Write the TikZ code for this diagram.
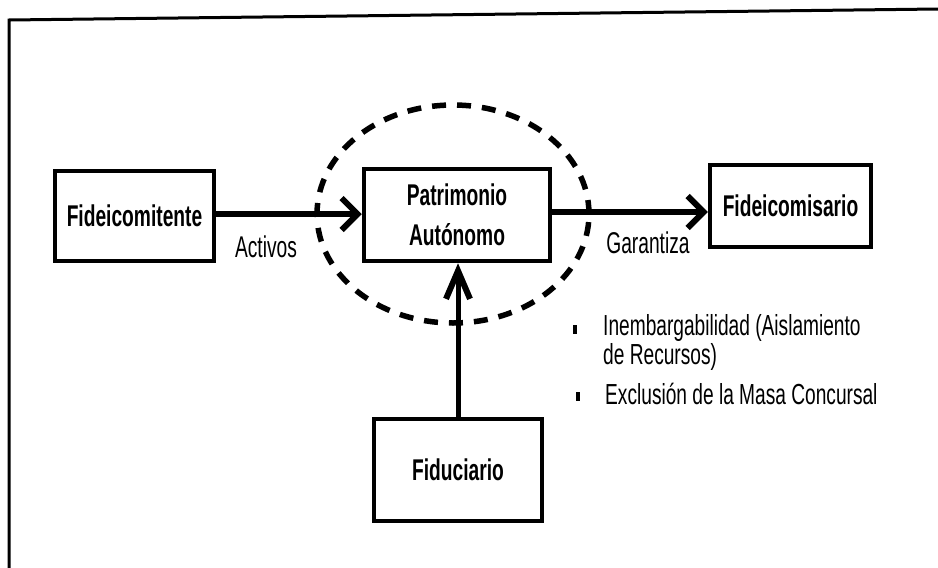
\documentclass[tikz,border=0pt]{standalone}
\usepackage{fontspec}
\usetikzlibrary{arrows.meta,shapes.geometric}
\newfontfamily\boxfont[FakeStretch=0.64]{Liberation Sans}
\newfontfamily\bulfont[FakeStretch=0.66]{Liberation Sans}
\tikzset{
  box/.style={draw, line width=4.5pt, inner sep=0pt, align=center,
    font=\boxfont\bfseries\fontsize{30}{32}\selectfont},
  lab/.style={inner sep=0pt, font=\boxfont\fontsize{30}{32}\selectfont},
  bul/.style={inner sep=0pt, anchor=base west, font=\bulfont\fontsize{29}{26}\selectfont},
  bulletmark/.style={fill=black, inner sep=0pt, minimum width=4pt, minimum height=9pt},
  flowh/.style={line width=6pt, -{Straight Barb[length=16pt,width=32pt,line width=6pt]}},
  flowv/.style={line width=5pt, -{Straight Barb[length=28pt,width=24pt,line width=6pt]}},
  ring/.style={ellipse, draw, line width=5.5pt, dash pattern=on 14pt off 11pt, inner sep=0pt}
}
\begin{document}
\begin{tikzpicture}[x=1pt,y=-1pt]
\useasboundingbox (0,0) rectangle (938,568);
\fill[white] (0,0) rectangle (938,568);
% outer frame (scanned, slightly tilted)
\draw[line width=3pt] (9,568) -- (9,20) -- (938,9);

\node[ring, minimum width=272pt, minimum height=218pt] (ring) at (453,214) {};

\node[box, minimum width=159pt, minimum height=90pt] (fc) at (134.5,216) {Fideicomitente};
\node[box, minimum width=186pt, minimum height=92pt] (pa) at (457,215) {Patrimonio\\[8pt]Autónomo};
\node[box, minimum width=161pt, minimum height=82pt] (fs) at (790.5,206) {Fideicomisario};
\node[box, minimum width=168pt, minimum height=102pt] (fd) at (458,470) {Fiduciario};

\draw[flowh] ([yshift=2pt]fc.east) -- ([yshift=2pt]fc.east -| pa.west);
\draw[flowh] ([yshift=3pt]pa.east) -- ([yshift=3pt]pa.east -| fs.west);
\draw[flowv] (fd.north) -- (fd.north |- pa.south);

\node[lab] (act) at (266,247) {Activos};
\node[lab] (gar) at (648,243) {Garantiza};

\node[bulletmark] (b1) at (575,329) {};
\node[bul] (t1a) at (603,335) {Inembargabilidad (Aislamiento};
\node[bul] (t1b) at (603,364) {de Recursos)};
\node[bulletmark] (b2) at (578,396) {};
\node[bul] (t2) at (605,404) {Exclusión de la Masa Concursal};
\end{tikzpicture}
\end{document}
